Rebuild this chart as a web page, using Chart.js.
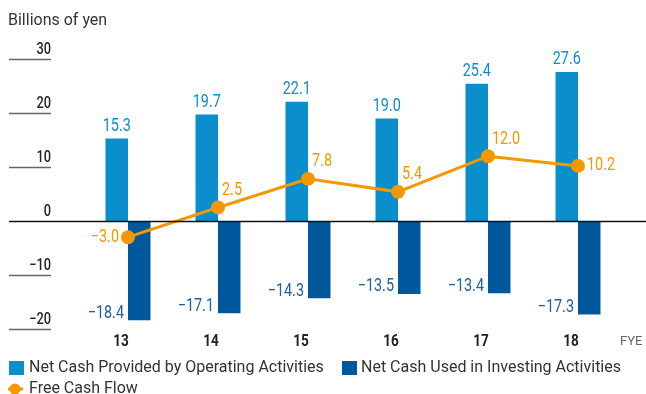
<!DOCTYPE html>
<html>
<head>
<meta charset="utf-8">
<script src="https://cdn.jsdelivr.net/npm/chart.js@4"></script>
<style>
  html, body { margin: 0; padding: 0; background: #fff; }
  #wrap { position: relative; width: 646px; height: 394px; }
</style>
</head>
<body>
<div id="wrap"><canvas id="cf" width="646" height="394"></canvas></div>
<script>
// Cash flow figures, billions of yen
const years = ['13', '14', '15', '16', '17', '18'];
const operating = [15.3, 19.7, 22.1, 19.0, 25.4, 27.6];
const investing = [-18.4, -17.1, -14.3, -13.5, -13.4, -17.3];
const freeCash = [-3.0, 2.5, 7.8, 5.4, 12.0, 10.2];
const yTicks = [30, 20, 10, 0, -10, -20];

const C_OP = '#0a8fcc', C_INV = '#00589c', C_FCF = '#f39800';
const PLAIN = 'Roboto, "Liberation Sans", sans-serif';
const SQUEEZE = 0.8;

const fmt = v => (v < 0 ? '\u2212' + Math.abs(v).toFixed(1) : v.toFixed(1));

// condensed text: squeeze horizontally around the anchor
function narrowText(ctx, txt, x, y) {
    ctx.save();
    ctx.translate(x, y);
    ctx.scale(SQUEEZE, 1);
    ctx.fillText(txt, 0, 0);
    ctx.restore();
}

// axes, zero line, category labels, value labels and legend
const decor = {
    id: 'decor',
    afterDatasetsDraw(chart) {
        const ctx = chart.ctx, y = chart.scales.y, x = chart.scales.x;
        ctx.save();

        // unit title
        ctx.fillStyle = '#333';
        ctx.font = '16px ' + PLAIN;
        ctx.textAlign = 'left'; ctx.textBaseline = 'middle';
        ctx.fillText('Billions of yen', 8, 21);

        // y ticks: label sitting on a short rule
        ctx.font = '500 16px ' + PLAIN;
        ctx.textAlign = 'right'; ctx.textBaseline = 'alphabetic';
        yTicks.forEach(t => {
            const py = Math.round(y.getPixelForValue(t)) + 0.5;
            ctx.fillStyle = '#222';
            narrowText(ctx, t < 0 ? '\u2212' + Math.abs(t) : String(t), 51, py - 6);
            if (t !== 0) {
                ctx.strokeStyle = '#666'; ctx.lineWidth = 1.3;
                ctx.beginPath(); ctx.moveTo(9, py); ctx.lineTo(51, py); ctx.stroke();
            }
        });
        const zy = Math.round(y.getPixelForValue(0)) + 0.5;
        ctx.strokeStyle = '#111'; ctx.lineWidth = 1.3;
        ctx.beginPath(); ctx.moveTo(9, zy); ctx.lineTo(646, zy); ctx.stroke();

        // category labels
        ctx.font = 'bold 17px ' + PLAIN;
        ctx.textAlign = 'center'; ctx.textBaseline = 'middle';
        ctx.fillStyle = '#222';
        years.forEach((yr, i) => narrowText(ctx, yr, x.getPixelForValue(i) - 7, 342));
        ctx.font = '13px ' + PLAIN; ctx.fillStyle = '#666';
        ctx.textAlign = 'left';
        ctx.fillText('FYE', 620, 342);

        // value labels
        ctx.font = '18px ' + PLAIN;
        const opMeta = chart.getDatasetMeta(0), invMeta = chart.getDatasetMeta(1), fMeta = chart.getDatasetMeta(2);
        ctx.fillStyle = C_OP; ctx.textAlign = 'center'; ctx.textBaseline = 'bottom';
        opMeta.data.forEach((b, i) => narrowText(ctx, fmt(operating[i]), b.x, b.y - 3));
        ctx.fillStyle = '#1d5fa0'; ctx.textAlign = 'right'; ctx.textBaseline = 'bottom';
        invMeta.data.forEach((b, i) => narrowText(ctx, fmt(investing[i]), b.x - b.width / 2 - 4, b.y + 2));
        ctx.fillStyle = C_FCF;
        fMeta.data.forEach((p, i) => {
            ctx.textBaseline = 'middle';
            if (i === 0) { ctx.textAlign = 'right'; narrowText(ctx, fmt(freeCash[i]), p.x - 9, p.y); }
            else if (i === freeCash.length - 1) { ctx.textAlign = 'left'; narrowText(ctx, fmt(freeCash[i]), p.x + 9, p.y); }
            else { ctx.textAlign = 'left'; narrowText(ctx, fmt(freeCash[i]), p.x + 4, p.y - 17); }
        });

        // legend
        ctx.font = '16px ' + PLAIN;
        ctx.textAlign = 'left'; ctx.textBaseline = 'middle';
        ctx.fillStyle = C_OP; ctx.fillRect(9, 361, 15, 14);
        ctx.fillStyle = '#333'; ctx.fillText(chart.data.datasets[0].label, 29, 368);
        ctx.fillStyle = C_INV; ctx.fillRect(342, 361, 15, 14);
        ctx.fillStyle = '#333'; ctx.fillText(chart.data.datasets[1].label, 361, 368);
        ctx.strokeStyle = C_FCF; ctx.lineWidth = 3;
        ctx.beginPath(); ctx.moveTo(8, 389); ctx.lineTo(23, 389); ctx.stroke();
        ctx.fillStyle = C_FCF;
        ctx.beginPath(); ctx.arc(15, 389, 5.5, 0, Math.PI * 2); ctx.fill();
        ctx.fillStyle = '#333'; ctx.fillText(chart.data.datasets[2].label, 29, 389);

        ctx.restore();
    }
};

new Chart(document.getElementById('cf'), {
    type: 'bar',
    data: {
        labels: years,
        datasets: [
            { label: 'Net Cash Provided by Operating Activities', data: operating, backgroundColor: C_OP, order: 2,
              categoryPercentage: 0.5, barPercentage: 1 },
            { label: 'Net Cash Used in Investing Activities', data: investing, backgroundColor: C_INV, order: 2,
              categoryPercentage: 0.5, barPercentage: 1 },
            { type: 'line', label: 'Free Cash Flow', data: freeCash, borderColor: C_FCF, backgroundColor: C_FCF,
              borderWidth: 3, pointRadius: 5.5, pointHoverRadius: 5.5, tension: 0, order: 0 }
        ]
    },
    options: {
        responsive: false,
        animation: false,
        devicePixelRatio: 1,
        layout: { padding: { left: 83, right: 23, top: 59, bottom: 65 } },
        plugins: { legend: { display: false }, tooltip: { enabled: false } },
        scales: {
            x: { display: false, offset: true },
            y: { display: false, min: -20, max: 30 }
        }
    },
    plugins: [decor]
});
</script>
</body>
</html>
